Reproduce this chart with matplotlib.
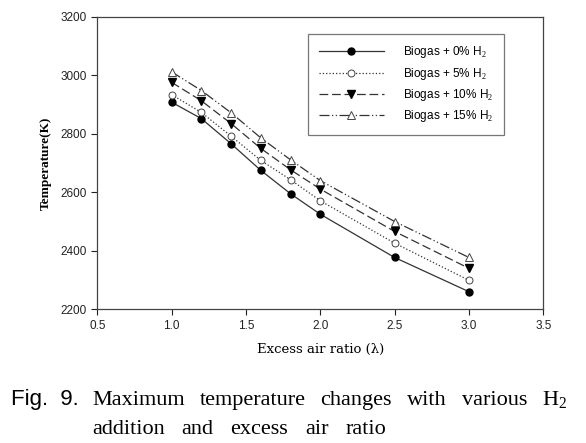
import matplotlib
matplotlib.use('Agg')
import matplotlib.pyplot as plt

# data
excess_air = [1.0, 1.2, 1.4, 1.6, 1.8, 2.0, 2.5, 3.0]
h2_0 = [2908, 2852, 2766, 2675, 2595, 2525, 2377, 2260]
h2_5 = [2934, 2873, 2792, 2709, 2643, 2571, 2426, 2299]
h2_10 = [2976, 2913, 2835, 2750, 2677, 2611, 2466, 2340]
h2_15 = [3012, 2948, 2872, 2786, 2711, 2640, 2500, 2377]
labels = ['Biogas + 0% H$_2$', 'Biogas + 5% H$_2$',
          'Biogas + 10% H$_2$', 'Biogas + 15% H$_2$']

# caption words, each line justified
caption1 = ['Maximum', 'temperature', 'changes', 'with', 'various', 'H$_2$']
caption2 = ['addition', 'and', 'excess', 'air', 'ratio']

plt.rcParams['font.family'] = ['Liberation Sans', 'DejaVu Sans']
plt.rcParams['mathtext.fontset'] = 'custom'
plt.rcParams['mathtext.rm'] = 'Liberation Serif'

fig = plt.figure(figsize=(5.86, 4.43), dpi=100)
ax = fig.add_axes([0.166, 0.302, 0.761, 0.660])

lc = '#333333'
ax.plot(excess_air, h2_0, color=lc, lw=0.9, ls='-', marker='o', ms=5,
        mfc='black', mec='black', label=labels[0])
ax.plot(excess_air, h2_5, color=lc, lw=0.9, ls=':', marker='o', ms=5,
        mfc='white', mec='#444444', mew=0.7, label=labels[1])
ax.plot(excess_air, h2_10, color=lc, lw=0.9, ls=(0, (7, 3)), marker='v', ms=5.5,
        mfc='black', mec='black', label=labels[2])
ax.plot(excess_air, h2_15, color=lc, lw=0.9, ls=(0, (8, 2, 1, 2, 1, 2)), marker='^',
        ms=6, mfc='white', mec='#444444', mew=0.7, label=labels[3])

ax.set_xlim(0.5, 3.5)
ax.set_ylim(2200, 3200)
ax.set_xticks([0.5, 1.0, 1.5, 2.0, 2.5, 3.0, 3.5])
ax.set_xticklabels(['0.5', '1.0', '1.5', '2.0', '2.5', '3.0', '3.5'])
ax.set_yticks([2200, 2400, 2600, 2800, 3000, 3200])
ax.tick_params(direction='out', length=4, width=0.8, labelsize=8.5, colors='#222222',
               top=False, right=False)
for s in ax.spines.values():
    s.set_color('#444444')
    s.set_linewidth(0.9)

ax.set_ylabel('Temperature(K)', family='Liberation Serif', fontweight='bold',
              fontsize=9.5, labelpad=6)
ax.set_xlabel('Excess air ratio (λ)', family='DejaVu Serif', fontsize=9.5, labelpad=8)

leg = ax.legend(loc='upper left', bbox_to_anchor=(0.473, 0.942), fontsize=8.5,
                frameon=True, fancybox=False, edgecolor='#555555', handlelength=5.5,
                borderpad=0.9, labelspacing=0.45, handletextpad=1.6, borderaxespad=0)
leg.get_frame().set_linewidth(0.9)

# caption under the chart
fs = 16
fig.text(11 / 586, 1 - 405 / 443, 'Fig.  9.', family='Liberation Sans', fontsize=16,
         va='baseline')

fig.canvas.draw()
renderer = fig.canvas.get_renderer()


def justify(word_list, base_px, x0, x1):
    texts = [fig.text(0, 1 - base_px / 443, w, family='Liberation Serif', fontsize=fs,
                      va='baseline') for w in word_list]
    widths = [t.get_window_extent(renderer).width for t in texts]
    gap = (x1 - x0 - sum(widths)) / (len(texts) - 1)
    x = x0
    for t, w in zip(texts, widths):
        t.set_x(x / 586)
        x += w + gap


justify(caption1, 405, 92, 567)
justify(caption2, 434, 92, 386)

fig.savefig('out.png', dpi=100)
